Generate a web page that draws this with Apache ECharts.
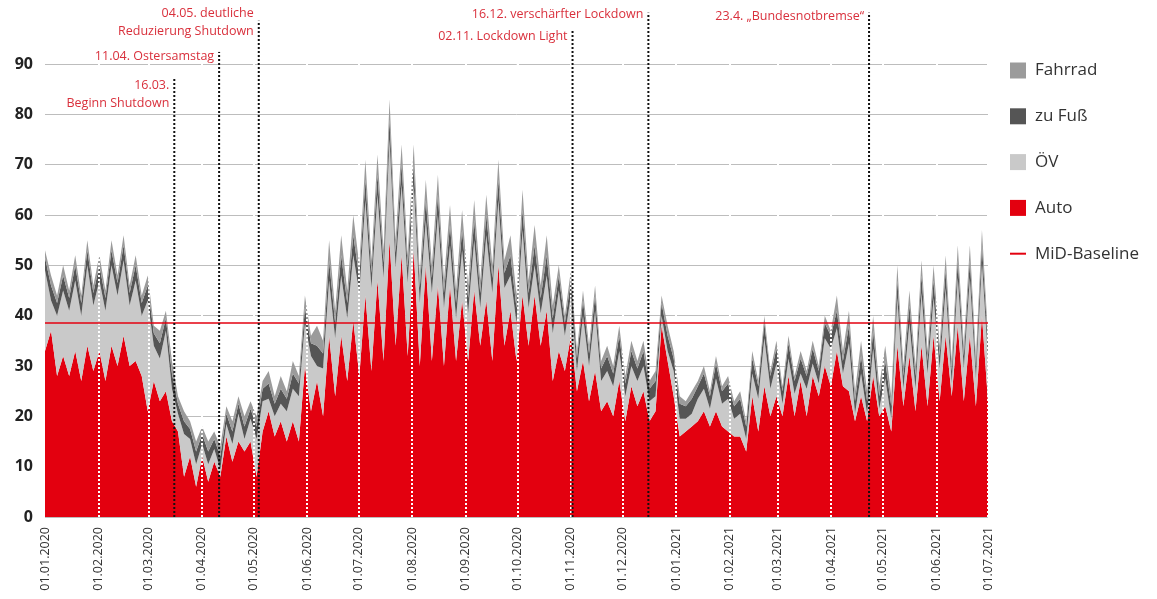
<!DOCTYPE html>
<html>
<head>
<meta charset="utf-8">
<script src="https://cdn.jsdelivr.net/npm/echarts@6/dist/echarts.min.js"></script>
<style>html,body{margin:0;padding:0;background:#fff}#c{width:1157px;height:599px}</style>
</head>
<body>
<div id="c"></div>
<script>
// ---------------- DATA ----------------
const startDate = '01.01.2020';
const endDate = '01.07.2021';
const readingsPerWeek = 2; // two readings per week (weekday/weekend pattern)

const auto = [33,37,28,32,28,33,27,34,29,33,27,34,30,36,30,31,28,21,
  27,23,25,19,
  17,8,12,6,12,7,11,8,16,11,15,13,15,8,
  17,21,16,19,15,19,15,30,21,
  27,20,36,24,36,27,39,28,44,29,47,31,55,34,52,32,53,30,50,31,46,30,46,31,43,31,45,34,43,31,50,34,41,31,44,34,44,34,41,27,
  33,29,36,25,31,23,29,21,23,20,27,19,26,22,25,19,21,38,31,24,
  16,17,18,19,21,18,21,18,17,16,16,13,24,17,26,20,24,20,28,20,27,20,28,24,30,26,
  33,26,25,19,24,19,28,20,22,17,34,22,32,21,34,22,36,23,36,24,38,23,36,22,40,23];
const oev = [16,6,12,13,13,14,13,16,13,14,14,16,14,15,12,16,12,22,
  7,8.5,12,6.5,
  3.5,8.5,3.5,4.5,2.5,3.5,2.5,1.5,2.5,3.5,5.5,2.5,4.5,7.5,
  6,2.5,4,3.5,6,6.5,9,8.5,11,
  3,9.5,11,11.5,12,12.5,13,16.5,19,16.5,17,16.5,20,15.5,14,14.5,13,12.5,9,13.5,14,11.5,8,8.5,10,9.5,10,7.5,13,13.5,13,11.5,7,7.5,13,7.5,6,6.5,7,9.5,
  12,7,8,4,9,7,12,6,6,6,6,5,4,5,5,4,3,2,2,5,
  3.5,2.5,2.5,4.5,4.5,3.5,6.5,4.5,6.5,3.5,4.5,2.5,4.5,6.5,9.5,5.5,6.5,2.5,3.5,4.5,1.5,5.5,2.5,2.5,5.5,7.5,
  4.5,2.5,9.5,1.5,4.5,1.5,5.5,1.5,5.5,2.5,9.5,3.5,6.5,4.5,10.5,6.5,7.5,6.5,9.5,2.5,9.5,6.5,11.5,5.5,10.5,8.5];
const fuss = [2.5,3,2.5,3,2.5,3,2.5,3,2.5,3,2.5,3,2.5,3,2.5,3,2.5,3,
  2.5,3,2.5,3,
  2,2.5,2,2.5,2,2.5,2,2.5,2,2.5,2,2.5,2,2.5,
  2.5,3,2.5,3,2.5,3,2.5,3,2.5,
  4,3,4,3,4,3,4,3,4,3,4,3,4,3,4,3,4,3,4,3,4,3,4,3,4,3,4,3,4,3,4,3,4,3,4,3,4,3,4,3,
  3,2.5,3,2.5,3,2.5,3,2.5,3,2.5,3,2.5,3,2.5,3,2.5,3,2.5,3,2.5,
  3,2.5,3,2.5,3,2.5,3,2.5,3,2.5,3,2.5,3,2.5,3,2.5,3,2.5,3,2.5,3,2.5,3,2.5,3,2.5,
  3.5,2.5,3.5,2.5,3.5,2.5,3.5,2.5,3.5,2.5,3.5,2.5,3.5,2.5,3.5,2.5,3.5,2.5,3.5,2.5,3.5,2.5,3.5,2.5,3.5,2.5];
const rad = [1.5,2,1.5,2,1.5,2,1.5,2,1.5,2,1.5,2,1.5,2,1.5,2,1.5,2,
  1.5,2.5,1.5,2.5,
  1.5,2,1.5,2,1.5,2,1.5,2,1.5,2,1.5,2,1.5,2,
  1.5,2.5,1.5,2.5,1.5,2.5,1.5,2.5,1.5,
  4,2.5,4,2.5,4,2.5,4,2.5,4,2.5,4,2.5,4,2.5,4,2.5,4,2.5,4,2.5,4,2.5,4,2.5,4,2.5,4,2.5,4,2.5,4,2.5,4,2.5,4,2.5,4,2.5,4,2.5,
  2,1.5,2,1.5,2,1.5,2,1.5,2,1.5,2,1.5,2,1.5,2,1.5,2,1.5,2,1.5,
  1.5,1,1.5,1,1.5,1,1.5,1,1.5,1,1.5,1,1.5,1,1.5,1,1.5,1,1.5,1,1.5,1,1.5,1,1.5,1,
  3,2,3,2,3,2,3,2,3,2,3,2,3,2,3,2,3,2,3,2,3,2,3,2,3,2];

const baselineValue = 38.5;

const monthTicks = ['01.01.2020','01.02.2020','01.03.2020','01.04.2020','01.05.2020','01.06.2020',
  '01.07.2020','01.08.2020','01.09.2020','01.10.2020','01.11.2020','01.12.2020',
  '01.01.2021','01.02.2021','01.03.2021','01.04.2021','01.05.2021','01.06.2021','01.07.2021'];

const eventDates = ['16.03.2020','11.04.2020','04.05.2020','02.11.2020','16.12.2020','23.04.2021'];
const eventLabels = [['16.03.','Beginn Shutdown'],['11.04. Ostersamstag'],['04.05. deutliche','Reduzierung Shutdown'],
  ['02.11. Lockdown Light'],['16.12. verschärfter Lockdown'],['23.4. „Bundesnotbremse“']];

// ---------------- LAYOUT / STYLE ----------------
const eventLineTop = [87.1, 92.4, 98.6, 96.8, 100.2, 100.2];   // top end of each marker line (axis units)
const eventLabelOffset = [7, 5, -7, 7, 2, 4];                  // px from line top to first text line centre
const colors = {auto:'#e3000f', oev:'#c9c9c9', fuss:'#555555', rad:'#9b9b9b', event:'#d9303c'};

const DAY = 86400000;
function parseDE(s){ const p = s.split('.'); return Date.UTC(+p[2], +p[1]-1, +p[0]); }
const tStart = parseDE(startDate), tEnd = parseDE(endDate);
function dayIndex(s){ return Math.round((parseDE(s) - tStart) / DAY); }
const totalDays = dayIndex(endDate);
// reading timestamps: evenly spread over the period, two per week
const times = auto.map((_, i) => tStart + i * (tEnd - tStart) / (auto.length - 1));
const monthDays = monthTicks.map(dayIndex);
const labelByDay = {}; monthTicks.forEach((s,k)=>{ labelByDay[monthDays[k]] = s; });

function areaSeries(name, vals, color){
  return {name, type:'line', stack:'total', symbol:'none', showSymbol:false,
    xAxisIndex:0, yAxisIndex:0,
    data: vals.map((v,i)=>[times[i], v]),
    lineStyle:{width:0}, itemStyle:{color}, areaStyle:{color, opacity:1}, z:2};
}

const sAuto = areaSeries('Auto', auto, colors.auto);
const sOev = areaSeries('ÖV', oev, colors.oev);
const sFuss = areaSeries('zu Fuß', fuss, colors.fuss);
const sRad = areaSeries('Fahrrad', rad, colors.rad);
sRad.markLine = {silent:true, symbol:'none', animation:false, label:{show:false},
  lineStyle:{color:'#ffffff', width:2, type:[2,2], opacity:1},
  data: monthTicks.slice(1).map(s=>({xAxis: parseDE(s)}))};

const sBase = {name:'MiD-Baseline', type:'line', data:[], symbol:'none', showSymbol:false,
  xAxisIndex:0, yAxisIndex:0,
  lineStyle:{color:colors.auto, width:2}, itemStyle:{color:colors.auto}, z:5,
  markLine:{silent:true, symbol:'none', animation:false, label:{show:false},
    lineStyle:{color:colors.auto, width:1.5, type:'solid'}, data:[{yAxis: baselineValue}]}};

const chart = echarts.init(document.getElementById('c'), null, {renderer:'canvas', useUTC:true});
chart.setOption({
  animation:false,
  useUTC:true,
  backgroundColor:'#ffffff',
  textStyle:{fontFamily:'"Open Sans", "DejaVu Sans", sans-serif'},
  grid:{left:45, right:169, top:64, bottom:82, containLabel:false, outerBoundsMode:'none'},
  legend:{orient:'vertical', left:1005, top:57, itemWidth:16, itemHeight:16, itemGap:28.8,
    textStyle:{fontSize:17, color:'#333', lineHeight:16, padding:[0,0,0,4]},
    data:[{name:'Fahrrad', icon:'rect'},{name:'zu Fuß', icon:'rect'},{name:'ÖV', icon:'rect'},
      {name:'Auto', icon:'rect'},{name:'MiD-Baseline', icon:'path://M0,0H16V2H0Z'}]},
  xAxis:[
    {type:'time', min:tStart, max:tEnd, show:false,
      axisLine:{show:false}, axisTick:{show:false}, splitLine:{show:false}, axisLabel:{show:false}},
    {type:'value', min:0, max:totalDays, position:'bottom',
      axisLine:{show:false}, axisTick:{show:false}, splitLine:{show:false},
      axisLabel:{customValues: monthDays, rotate:90, margin:10, fontSize:12.5, color:'#333',
        hideOverlap:false, showMinLabel:true, showMaxLabel:true,
        formatter:function(v){ return labelByDay[Math.round(v)] || ''; }}}
  ],
  yAxis:{type:'value', min:0, max:90, interval:10,
    axisLine:{show:false}, axisTick:{show:false},
    axisLabel:{fontSize:16, fontWeight:'bold', color:'#222', margin:12},
    splitLine:{lineStyle:{color:'#bdbdbd', width:1}}},
  series:[sAuto, sOev, sFuss, sRad, sBase]
});

// event marker lines and labels, positioned through the axes
const g = [];
eventDates.forEach((ds, k) => {
  const t = parseDE(ds);
  const p0 = chart.convertToPixel({xAxisIndex:0, yAxisIndex:0}, [t, 0]);
  const p1 = chart.convertToPixel({xAxisIndex:0, yAxisIndex:0}, [t, eventLineTop[k]]);
  g.push({type:'line', z:100, silent:true,
    shape:{x1:p0[0], y1:p0[1], x2:p1[0], y2:p1[1]},
    style:{stroke:'#111', lineWidth:2, lineDash:[2,2]}});
  eventLabels[k].forEach((txt, j) => {
    g.push({type:'text', z:100, silent:true, x:p1[0]-5, y:p1[1]+eventLabelOffset[k]+j*18,
      style:{text:txt, fill:colors.event, font:'12.5px "Open Sans", sans-serif', align:'right', verticalAlign:'middle'}});
  });
});
chart.setOption({graphic:g});
</script>
</body>
</html>
